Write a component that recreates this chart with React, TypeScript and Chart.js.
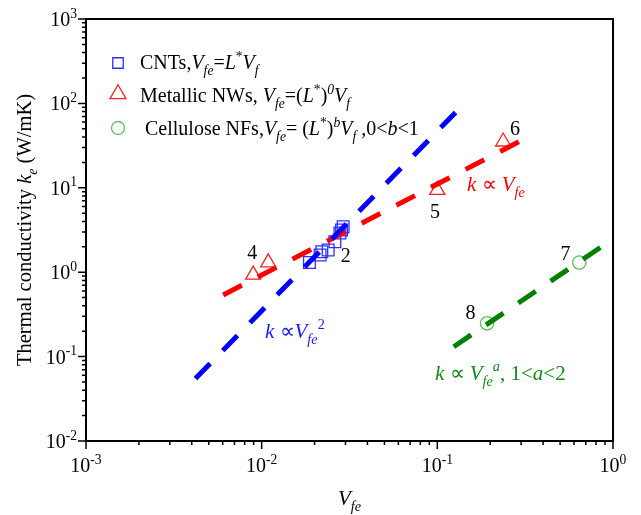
import React, { useEffect, useRef } from "react";
import { Chart, registerables } from "chart.js";

Chart.register(...registerables);

// ---------- data ----------
const cntVfe = [0.0187, 0.0215, 0.022, 0.0239, 0.0261, 0.0279, 0.0285, 0.0291];
const cntK = [1.3, 1.6, 1.75, 1.83, 2.3, 2.91, 3.16, 3.46];
const nwVfe = [0.00895, 0.0109, 0.1, 0.237];
const nwK = [0.93, 1.3, 9.4, 35.2];
const nfVfe = [0.643, 0.192];
const nfK = [1.3, 0.248];

const fitCntVfe = [0.0042, 0.1345];
const fitCntK = [0.055, 88.2];
const fitNwVfe = [0.00604, 0.292];
const fitNwK = [0.537, 35.2];
const fitNfVfe = [0.124, 0.85];
const fitNfK = [0.131, 1.97];

const pointTags = ["2", "4", "5", "6", "7", "8"];
const pointTagVfe = [0.0301, 0.00884, 0.0969, 0.2765, 0.537, 0.1547];
const pointTagK = [1.526, 1.643, 5.03, 49.3, 1.6, 0.32];

const xDecades = [-3, -2, -1, 0];
const yDecades = [-2, -1, 0, 1, 2, 3];

const FONT = '"Liberation Serif", "Times New Roman", serif';

type Seg = { t: string; it?: boolean; sub?: boolean; sup?: boolean };

function drawRich(
  ctx: CanvasRenderingContext2D,
  segs: Seg[],
  x: number,
  y: number,
  size: number,
  color: string,
  align: "left" | "center" | "right" = "left"
) {
  const small = size * 0.68;
  const font = (s: Seg) =>
    `${s.it ? "italic " : ""}${s.sub || s.sup ? small : size}px ${FONT}`;
  const ws: number[] = [];
  let w = 0;
  for (const s of segs) {
    ctx.font = font(s);
    const m = ctx.measureText(s.t).width;
    ws.push(m);
    w += m;
  }
  let cx = align === "left" ? x : align === "center" ? x - w / 2 : x - w;
  ctx.fillStyle = color;
  ctx.textBaseline = "alphabetic";
  ctx.textAlign = "left";
  segs.forEach((s, i) => {
    ctx.font = font(s);
    const dy = s.sub ? size * 0.3 : s.sup ? -size * 0.42 : 0;
    ctx.fillText(s.t, cx, y + dy);
    cx += ws[i];
  });
  return w;
}

function marker(ctx: CanvasRenderingContext2D, kind: string, x: number, y: number, size: number, color: string) {
  ctx.save();
  ctx.strokeStyle = color;
  ctx.lineWidth = 1.3;
  ctx.beginPath();
  if (kind === "rect") {
    ctx.rect(x - size / 2, y - size / 2, size, size);
  } else if (kind === "tri") {
    const r = size / Math.sqrt(3);
    ctx.moveTo(x, y - r);
    ctx.lineTo(x + size / 2, y + r / 2);
    ctx.lineTo(x - size / 2, y + r / 2);
    ctx.closePath();
  } else {
    ctx.arc(x, y, size / 2, 0, Math.PI * 2);
  }
  ctx.stroke();
  ctx.restore();
}

const decorPlugin = {
  id: "decor",
  afterDraw(chart: any) {
    const ctx: CanvasRenderingContext2D = chart.ctx;
    const { left, right, top, bottom } = chart.chartArea;
    const xs = chart.scales.x;
    const ys = chart.scales.y;
    ctx.save();
    // frame
    ctx.strokeStyle = "#000";
    ctx.lineWidth = 2;
    ctx.strokeRect(left, top, right - left, bottom - top);
    // ticks
    ctx.lineWidth = 1.5;
    ctx.beginPath();
    xDecades.forEach((e, i) => {
      const px = xs.getPixelForValue(Math.pow(10, e));
      ctx.moveTo(px, bottom);
      ctx.lineTo(px, bottom + 8);
      if (i < xDecades.length - 1) {
        for (let m = 2; m <= 9; m++) {
          const p = xs.getPixelForValue(m * Math.pow(10, e));
          ctx.moveTo(p, bottom);
          ctx.lineTo(p, bottom + 4);
        }
      }
    });
    yDecades.forEach((e, i) => {
      const py = ys.getPixelForValue(Math.pow(10, e));
      ctx.moveTo(left, py);
      ctx.lineTo(left - 8, py);
      if (i < yDecades.length - 1) {
        for (let m = 2; m <= 9; m++) {
          const p = ys.getPixelForValue(m * Math.pow(10, e));
          ctx.moveTo(left, p);
          ctx.lineTo(left - 4, p);
        }
      }
    });
    ctx.stroke();
    // tick labels
    xDecades.forEach((e) => {
      const px = xs.getPixelForValue(Math.pow(10, e));
      drawRich(ctx, [{ t: "10" }, { t: e === 0 ? "0" : "-" + -e, sup: true }], px, bottom + 31, 20, "#000", "center");
    });
    yDecades.forEach((e) => {
      const py = ys.getPixelForValue(Math.pow(10, e));
      drawRich(ctx, [{ t: "10" }, { t: e < 0 ? "-" + -e : String(e), sup: true }], left - 9, py + 7, 20, "#000", "right");
    });
    // axis titles
    drawRich(ctx, [{ t: "V", it: true }, { t: "fe", it: true, sub: true }], (left + right) / 2, 505, 21, "#000", "center");
    ctx.save();
    ctx.translate(31, (top + bottom) / 2);
    ctx.rotate(-Math.PI / 2);
    drawRich(
      ctx,
      [{ t: "Thermal conductivity " }, { t: "k", it: true }, { t: "e", it: true, sub: true }, { t: " (W/mK)" }],
      0,
      0,
      20.5,
      "#000",
      "center"
    );
    ctx.restore();
    // legend
    const lx = left + 32;
    const tx = left + 54;
    marker(ctx, "rect", lx, top + 44, 10.5, "#3030ff");
    drawRich(
      ctx,
      [
        { t: "CNTs," },
        { t: "V", it: true },
        { t: "fe", it: true, sub: true },
        { t: "=" },
        { t: "L", it: true },
        { t: "*", sup: true },
        { t: "V", it: true },
        { t: "f", it: true, sub: true },
      ],
      tx,
      top + 50,
      20,
      "#000"
    );
    marker(ctx, "tri", lx, top + 75, 16, "#ff2020");
    drawRich(
      ctx,
      [
        { t: "Metallic NWs, " },
        { t: "V", it: true },
        { t: "fe", it: true, sub: true },
        { t: "=(" },
        { t: "L", it: true },
        { t: "*", sup: true },
        { t: ")" },
        { t: "0", it: true, sup: true },
        { t: "V", it: true },
        { t: "f", it: true, sub: true },
      ],
      tx,
      top + 83,
      20,
      "#000"
    );
    marker(ctx, "circle", lx, top + 109, 13, "#5cbf5c");
    drawRich(
      ctx,
      [
        { t: " Cellulose NFs," },
        { t: "V", it: true },
        { t: "fe", it: true, sub: true },
        { t: "= (" },
        { t: "L", it: true },
        { t: "*", sup: true },
        { t: ")" },
        { t: "b", it: true, sup: true },
        { t: "V", it: true },
        { t: "f", it: true, sub: true },
        { t: " ,0<" },
        { t: "b", it: true },
        { t: "<1" },
      ],
      tx,
      top + 116,
      20,
      "#000"
    );
    // point tags
    ctx.font = `20px ${FONT}`;
    ctx.fillStyle = "#000";
    ctx.textAlign = "center";
    ctx.textBaseline = "middle";
    pointTags.forEach((t, i) => {
      ctx.fillText(t, xs.getPixelForValue(pointTagVfe[i]), ys.getPixelForValue(pointTagK[i]));
    });
    // fit labels
    drawRich(
      ctx,
      [{ t: "k", it: true }, { t: " \u221D " }, { t: "V", it: true }, { t: "fe", it: true, sub: true }],
      xs.getPixelForValue(0.1474),
      ys.getPixelForValue(9.16),
      21,
      "#ff0000"
    );
    drawRich(
      ctx,
      [{ t: "k", it: true }, { t: " \u221D" }, { t: "V", it: true }, { t: "fe", it: true, sub: true }, { t: "2", sup: true }],
      xs.getPixelForValue(0.01044),
      ys.getPixelForValue(0.166),
      21,
      "#1a1aff"
    );
    drawRich(
      ctx,
      [
        { t: "k", it: true },
        { t: " \u221D " },
        { t: "V", it: true },
        { t: "fe", it: true, sub: true },
        { t: "a", it: true, sup: true },
        { t: ", 1<" },
        { t: "a", it: true },
        { t: "<2" },
      ],
      xs.getPixelForValue(0.0969),
      ys.getPixelForValue(0.0528),
      21,
      "#158a15"
    );
    ctx.restore();
  },
};

const toPts = (xs: number[], ys: number[]) => xs.map((x, i) => ({ x, y: ys[i] }));

export default function App() {
  const ref = useRef<HTMLCanvasElement | null>(null);
  useEffect(() => {
    if (!ref.current) return;
    const lineDs = (xs: number[], ys: number[], color: string) => ({
      type: "line" as const,
      data: toPts(xs, ys),
      borderColor: color,
      borderWidth: 5,
      borderDash: [21, 18],
      pointRadius: 0,
      showLine: true,
      fill: false,
    });
    const chart = new Chart(ref.current, {
      type: "scatter",
      data: {
        datasets: [
          lineDs(fitCntVfe, fitCntK, "#0000ff"),
          lineDs(fitNwVfe, fitNwK, "#ff0000"),
          lineDs(fitNfVfe, fitNfK, "#008000"),
          {
            data: toPts(cntVfe, cntK),
            pointStyle: "rect",
            radius: 8.3,
            borderColor: "#3030ff",
            backgroundColor: "rgba(0,0,0,0)",
            borderWidth: 1.3,
          },
          {
            data: toPts(nwVfe, nwK),
            pointStyle: "triangle",
            radius: 8.7,
            borderColor: "#ff2020",
            backgroundColor: "rgba(0,0,0,0)",
            borderWidth: 1.3,
          },
          {
            data: toPts(nfVfe, nfK),
            pointStyle: "circle",
            radius: 6.7,
            borderColor: "#5cbf5c",
            backgroundColor: "rgba(0,0,0,0)",
            borderWidth: 1.3,
          },
        ] as any,
      },
      options: {
        responsive: false,
        animation: false,
        devicePixelRatio: 1,
        layout: { padding: { left: 86, right: 28, top: 19, bottom: 74 } },
        plugins: { legend: { display: false }, tooltip: { enabled: false } },
        scales: {
          x: {
            type: "logarithmic",
            min: 0.001,
            max: 1,
            ticks: { display: false },
            grid: { display: false },
            border: { display: false },
            afterFit: (s: any) => {
              s.height = 0;
            },
          },
          y: {
            type: "logarithmic",
            min: 0.01,
            max: 1000,
            ticks: { display: false },
            grid: { display: false },
            border: { display: false },
            afterFit: (s: any) => {
              s.width = 0;
            },
          },
        },
      } as any,
      plugins: [decorPlugin],
    });
    return () => chart.destroy();
  }, []);
  return (
    <canvas
      ref={ref}
      width={641}
      height={515}
      style={{ position: "absolute", left: 0, top: 0, display: "block", background: "#fff" }}
    />
  );
}
